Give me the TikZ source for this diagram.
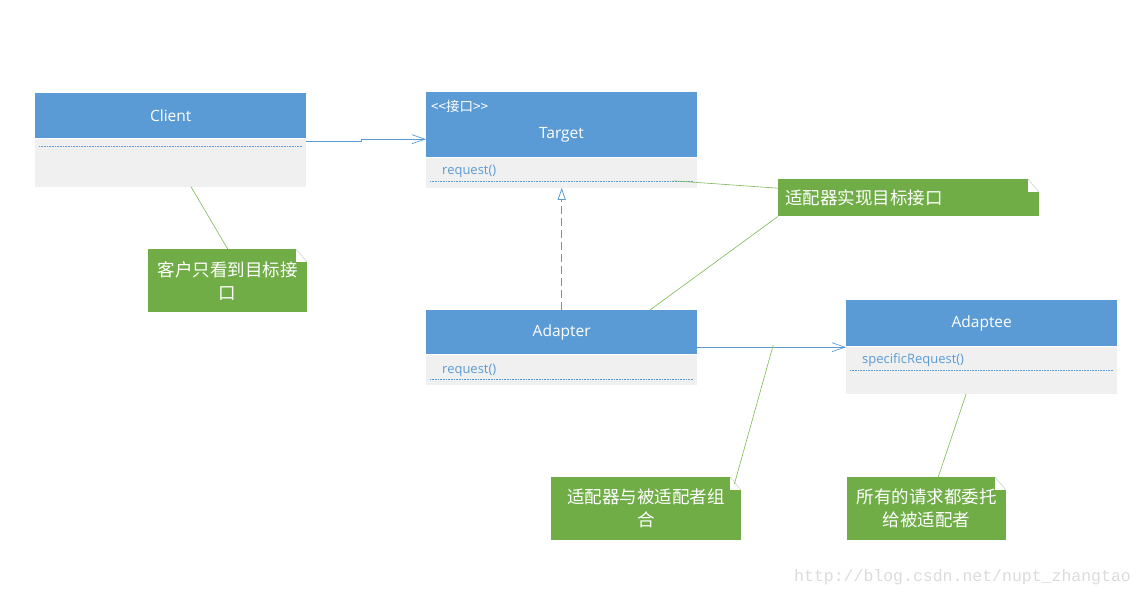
\documentclass[tikz,border=0pt]{standalone}
\usepackage{fontspec}
\setmainfont{Open Sans}
\newfontfamily\cjk{Noto Sans CJK SC}
\newfontfamily\mono{Liberation Mono}
\usetikzlibrary{positioning,calc,arrows.meta}
\definecolor{umlblue}{HTML}{5B9BD5}
\definecolor{umlgray}{HTML}{F0F0F0}
\definecolor{notegreen}{HTML}{70AD47}
\definecolor{linkgreen}{HTML}{7CB854}

\begin{document}
\begin{tikzpicture}[x=1pt, y=-1pt,
    head/.style={fill=umlblue, minimum width=271pt, inner sep=0pt, anchor=north west, text=white, font=\fontsize{15.5}{18}\selectfont},
    body/.style={fill=umlgray, minimum width=271pt, inner sep=0pt, anchor=north},
    title/.style={text=white, font=\fontsize{15.5}{18}\selectfont},
    member/.style={text=umlblue, font=\fontsize{13}{15}\selectfont, anchor=west, inner sep=0pt},
    sep/.style={umlblue, densely dotted, line width=0.6pt},
    assoc/.style={umlblue, line width=0.7pt, -{Straight Barb[length=13pt,width=9pt]}},
    real/.style={umlblue, line width=0.8pt, dash pattern=on 8pt off 4pt, -{Triangle[open,length=12pt,width=8pt]}},
    note/.style={fill=notegreen, text=white, inner sep=0pt, anchor=north west, align=center,
        font=\cjk\fontsize{17.5}{23}\selectfont,
        path picture={
            \fill[white] ([xshift=-11pt]path picture bounding box.north east) rectangle ([yshift=-13pt]path picture bounding box.north east);
            \draw[black!20, line width=0.5pt] ([xshift=-11pt]path picture bounding box.north east) -- ([yshift=-13pt]path picture bounding box.north east);
        }},
    link/.style={linkgreen, line width=0.6pt}]
    \useasboundingbox (0,0) rectangle (1145,597);

    % Client
    \node[head, minimum height=45pt] (client) at (35,93) {Client};
    \node[body, minimum height=48pt] (clientb) at (client.south) {};
    \draw[sep] ([xshift=4pt,yshift=-8pt]clientb.north west) -- ([xshift=-4pt,yshift=-8pt]clientb.north east);

    % Target
    \node[head, minimum height=65pt] (target) at (426,92) {};
    \node[title] (targetname) at (561.5,135) {Target};
    \node[title, font=\cjk\fontsize{13.5}{15}\selectfont, anchor=west, inner sep=0pt] (stereo) at (431,106) {<<接口>>};
    \node[body, minimum height=30pt] (targetb) at (target.south) {};
    \node[member] (treq) at (442,171) {request()};
    \draw[sep] ([xshift=4pt,yshift=-24pt]targetb.north west) -- ([xshift=-4pt,yshift=-24pt]targetb.north east);

    % Adapter
    \node[head, minimum height=44pt] (adapter) at (426,310) {Adapter};
    \node[body, minimum height=30pt] (adapterb) at (adapter.south) {};
    \node[member] (areq) at (442,370) {request()};
    \draw[sep] ([xshift=4pt,yshift=-25pt]adapterb.north west) -- ([xshift=-4pt,yshift=-25pt]adapterb.north east);

    % Adaptee
    \node[head, minimum height=46pt] (adaptee) at (846,300) {Adaptee};
    \node[body, minimum height=47pt] (adapteeb) at (adaptee.south) {};
    \node[member] (sreq) at (862,360) {specificRequest()};
    \draw[sep] ([xshift=4pt,yshift=-24pt]adapteeb.north west) -- ([xshift=-4pt,yshift=-24pt]adapteeb.north east);

    % Relations
    \draw[assoc] ([yshift=-3pt]clientb.north east) -- ++(55,0) |- ([yshift=-14.5pt]target.west);
    \draw[real] (adapter.north) -- (targetb.south);
    \coordinate (aout) at ([yshift=-15pt]adapter.east);
    \draw[assoc] (aout) -- coordinate[pos=0.51] (amid) (aout -| adapteeb.west);

    % Notes
    \node[note, text width=159pt, minimum height=63pt] (n1) at (148,249) {客户只看到目标接\\口};
    \node[note, text width=247pt, inner xsep=7pt, minimum height=37pt, align=left] (n2) at (778,179) {适配器实现目标接口};
    \node[note, text width=190pt, minimum height=63pt] (n3) at (551,477) {适配器与被适配者组\\合};
    \node[note, text width=159pt, minimum height=63pt] (n4) at (847,477) {所有的请求都委托\\给被适配者};

    \draw[link] ([xshift=156pt]clientb.south west) -- (n1.north);
    \draw[link] ([xshift=-24pt,yshift=7pt]targetb.south east) -- ([yshift=9.5pt]n2.west);
    \draw[link] (n2.south west) -- ([xshift=224pt]adapter.north west);
    \draw[link] ([xshift=-7pt,yshift=-7pt]n3.north east) -- ([yshift=2pt]amid);
    \draw[link] ([xshift=11.5pt]n4.north) -- ([xshift=-15.5pt]adapteeb.south);

    % Watermark
    \node[font=\mono\fontsize{16.5}{18}\selectfont, text=black!14, anchor=west, inner sep=0pt] (mark) at (794,577) {http://blog.csdn.net/nupt\_zhangtao};
\end{tikzpicture}
\end{document}
